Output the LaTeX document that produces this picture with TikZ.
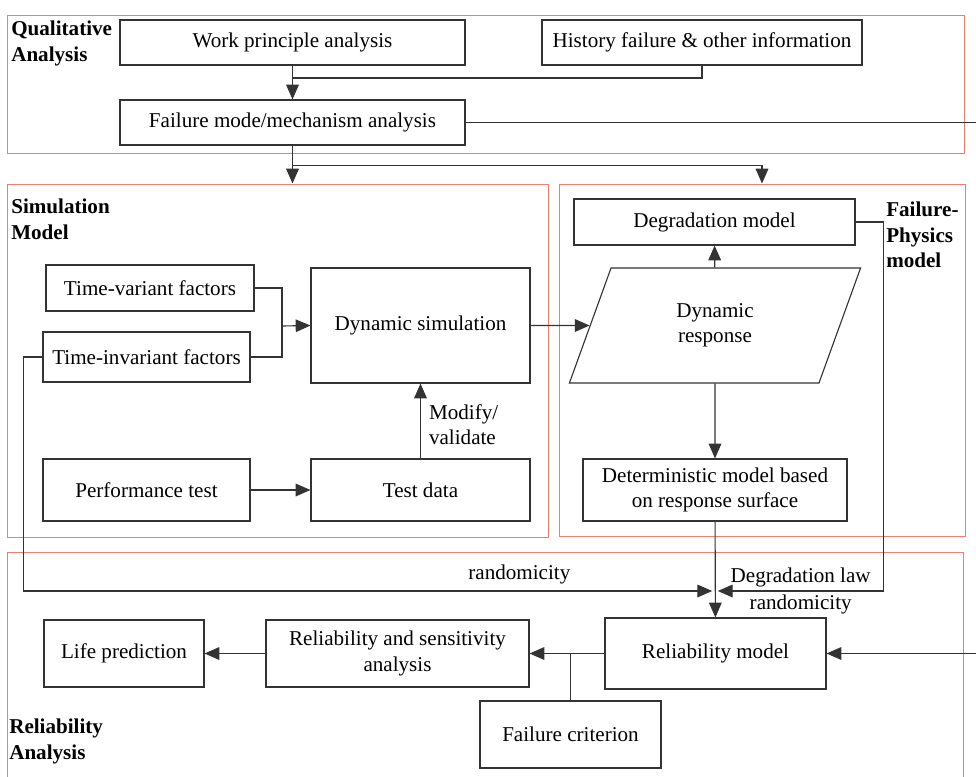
\documentclass[tikz,border=0pt]{standalone}
\usepackage{fontspec}
\setmainfont{Liberation Serif}
\usetikzlibrary{arrows.meta}
\usetikzlibrary{shapes.geometric}
\definecolor{savpiros}{RGB}{236,128,112}

\begin{document}
\begin{tikzpicture}[x=0.025cm,y=-0.025cm,>={Triangle[length=10.5pt,width=9pt]},
meret/.style 2 args={minimum width=#1*0.025cm,minimum height=#2*0.025cm},
blokk/.style={rectangle,draw=black!80,line width=.8pt,inner sep=1pt,align=center,
  font=\fontsize{15}{18}\selectfont},
sav/.style={rectangle,draw=savpiros,line width=.7pt,inner sep=0pt},
cimke/.style={anchor=north west,inner sep=0pt,align=left,
  font=\fontsize{15}{18}\selectfont\bfseries}]

\useasboundingbox (0,0) rectangle (976,777);

% the four bands
\node[sav,meret={957}{138}](qa) at (485.5,84){};
\node[sav,meret={541}{353}](sm) at (277.5,360.5){};
\node[sav,meret={406}{352}](fp) at (762,360){};
\node[sav,meret={956}{238}](ra) at (485,671){};

\node[cimke] at (11,21){Qualitative\\Analysis};
\node[cimke] at (11,199){Simulation\\Model};
\node[cimke] at (886,202){Failure-\\Physics\\model};
\node[cimke] at (9,719){Reliability\\Analysis};

% qualitative analysis
\node[blokk,meret={345}{45}](wp) at (292.5,42.5){Work principle analysis};
\node[blokk,meret={320}{45}](hf) at (702,42.5){History failure \& other information};
\node[blokk,meret={345}{45}](fm) at (292.5,122.5){Failure mode/mechanism analysis};

% simulation model
\node[blokk,meret={208}{46}](tv) at (150,288){Time-variant factors};
\node[blokk,meret={207}{50}](ti) at (146.5,357){Time-invariant factors};
\node[blokk,meret={219}{115}](ds) at (420.5,325.5){Dynamic simulation};
\node[blokk,meret={207}{62}](pt) at (146.5,490){Performance test};
\node[blokk,meret={219}{62}](td) at (420.5,490){Test data};

% failure-physics model
\node[blokk,meret={281}{46}](dg) at (714.5,222){Degradation model};
\node[blokk,trapezium,trapezium left angle=71,trapezium right angle=109,
  trapezium stretches=true,meret={292}{115}](dr) at (715,325.5){Dynamic\\response};
\node[blokk,meret={264}{62}](dmb) at (715,490){Deterministic model based\\on response surface};

% reliability analysis
\node[blokk,meret={160}{67}](lp) at (124,653.5){Life prediction};
\node[blokk,meret={263}{67}](rs) at (397.5,653.5){Reliability and sensitivity\\analysis};
\node[blokk,meret={221}{71}](rm) at (715.5,653.5){Reliability model};
\node[blokk,meret={181}{67}](fc) at (570.5,734.5){Failure criterion};

\coordinate (szel) at (978,0);
\coordinate (gy) at (282,326);
\coordinate (rnd) at (715,591);

\begin{scope}[->, line width=.8pt, draw=black!80,
  font=\fontsize{15}{18}\selectfont]
\draw[-] (hf.south) |- (292.5,78);
\draw (wp)--(fm);
\draw (fm.south)--(fm.south |- sm.north);
\draw (fm.south) ++(0,20) -| (fp.north);
\draw (fm.east)--(fm.east -| szel) |- (rm.east);

\draw[-] (tv.east) -| (gy);
\draw[-] (ti.east) -| (gy);
\draw (gy)--(ds.west);
\draw (pt)--(td);
\draw (td)--(ds) node[pos=.45, right, align=left, inner sep=2mm]{Modify/\\validate};
\draw (ds.east)--(dr.west);
\draw (dr)--(dg);
\draw (dr)--(dmb);

\draw (ti.west) -- ++(-19,0) |- ([xshift=-2]rnd) node[pos=.86, above, inner sep=1.5mm]{randomicity};
\draw (dg.east) -- ++(28,0) |- ([xshift=2]rnd) node[pos=.75, align=center, inner sep=0pt]{Degradation law\\[1pt]randomicity};
\draw (dmb)--(rm);
\draw (rm)--(rs);
\draw[-] (fc.north)--(fc.north |- rm.west);
\draw (rs)--(lp);
\end{scope}
\end{tikzpicture}
\end{document}
